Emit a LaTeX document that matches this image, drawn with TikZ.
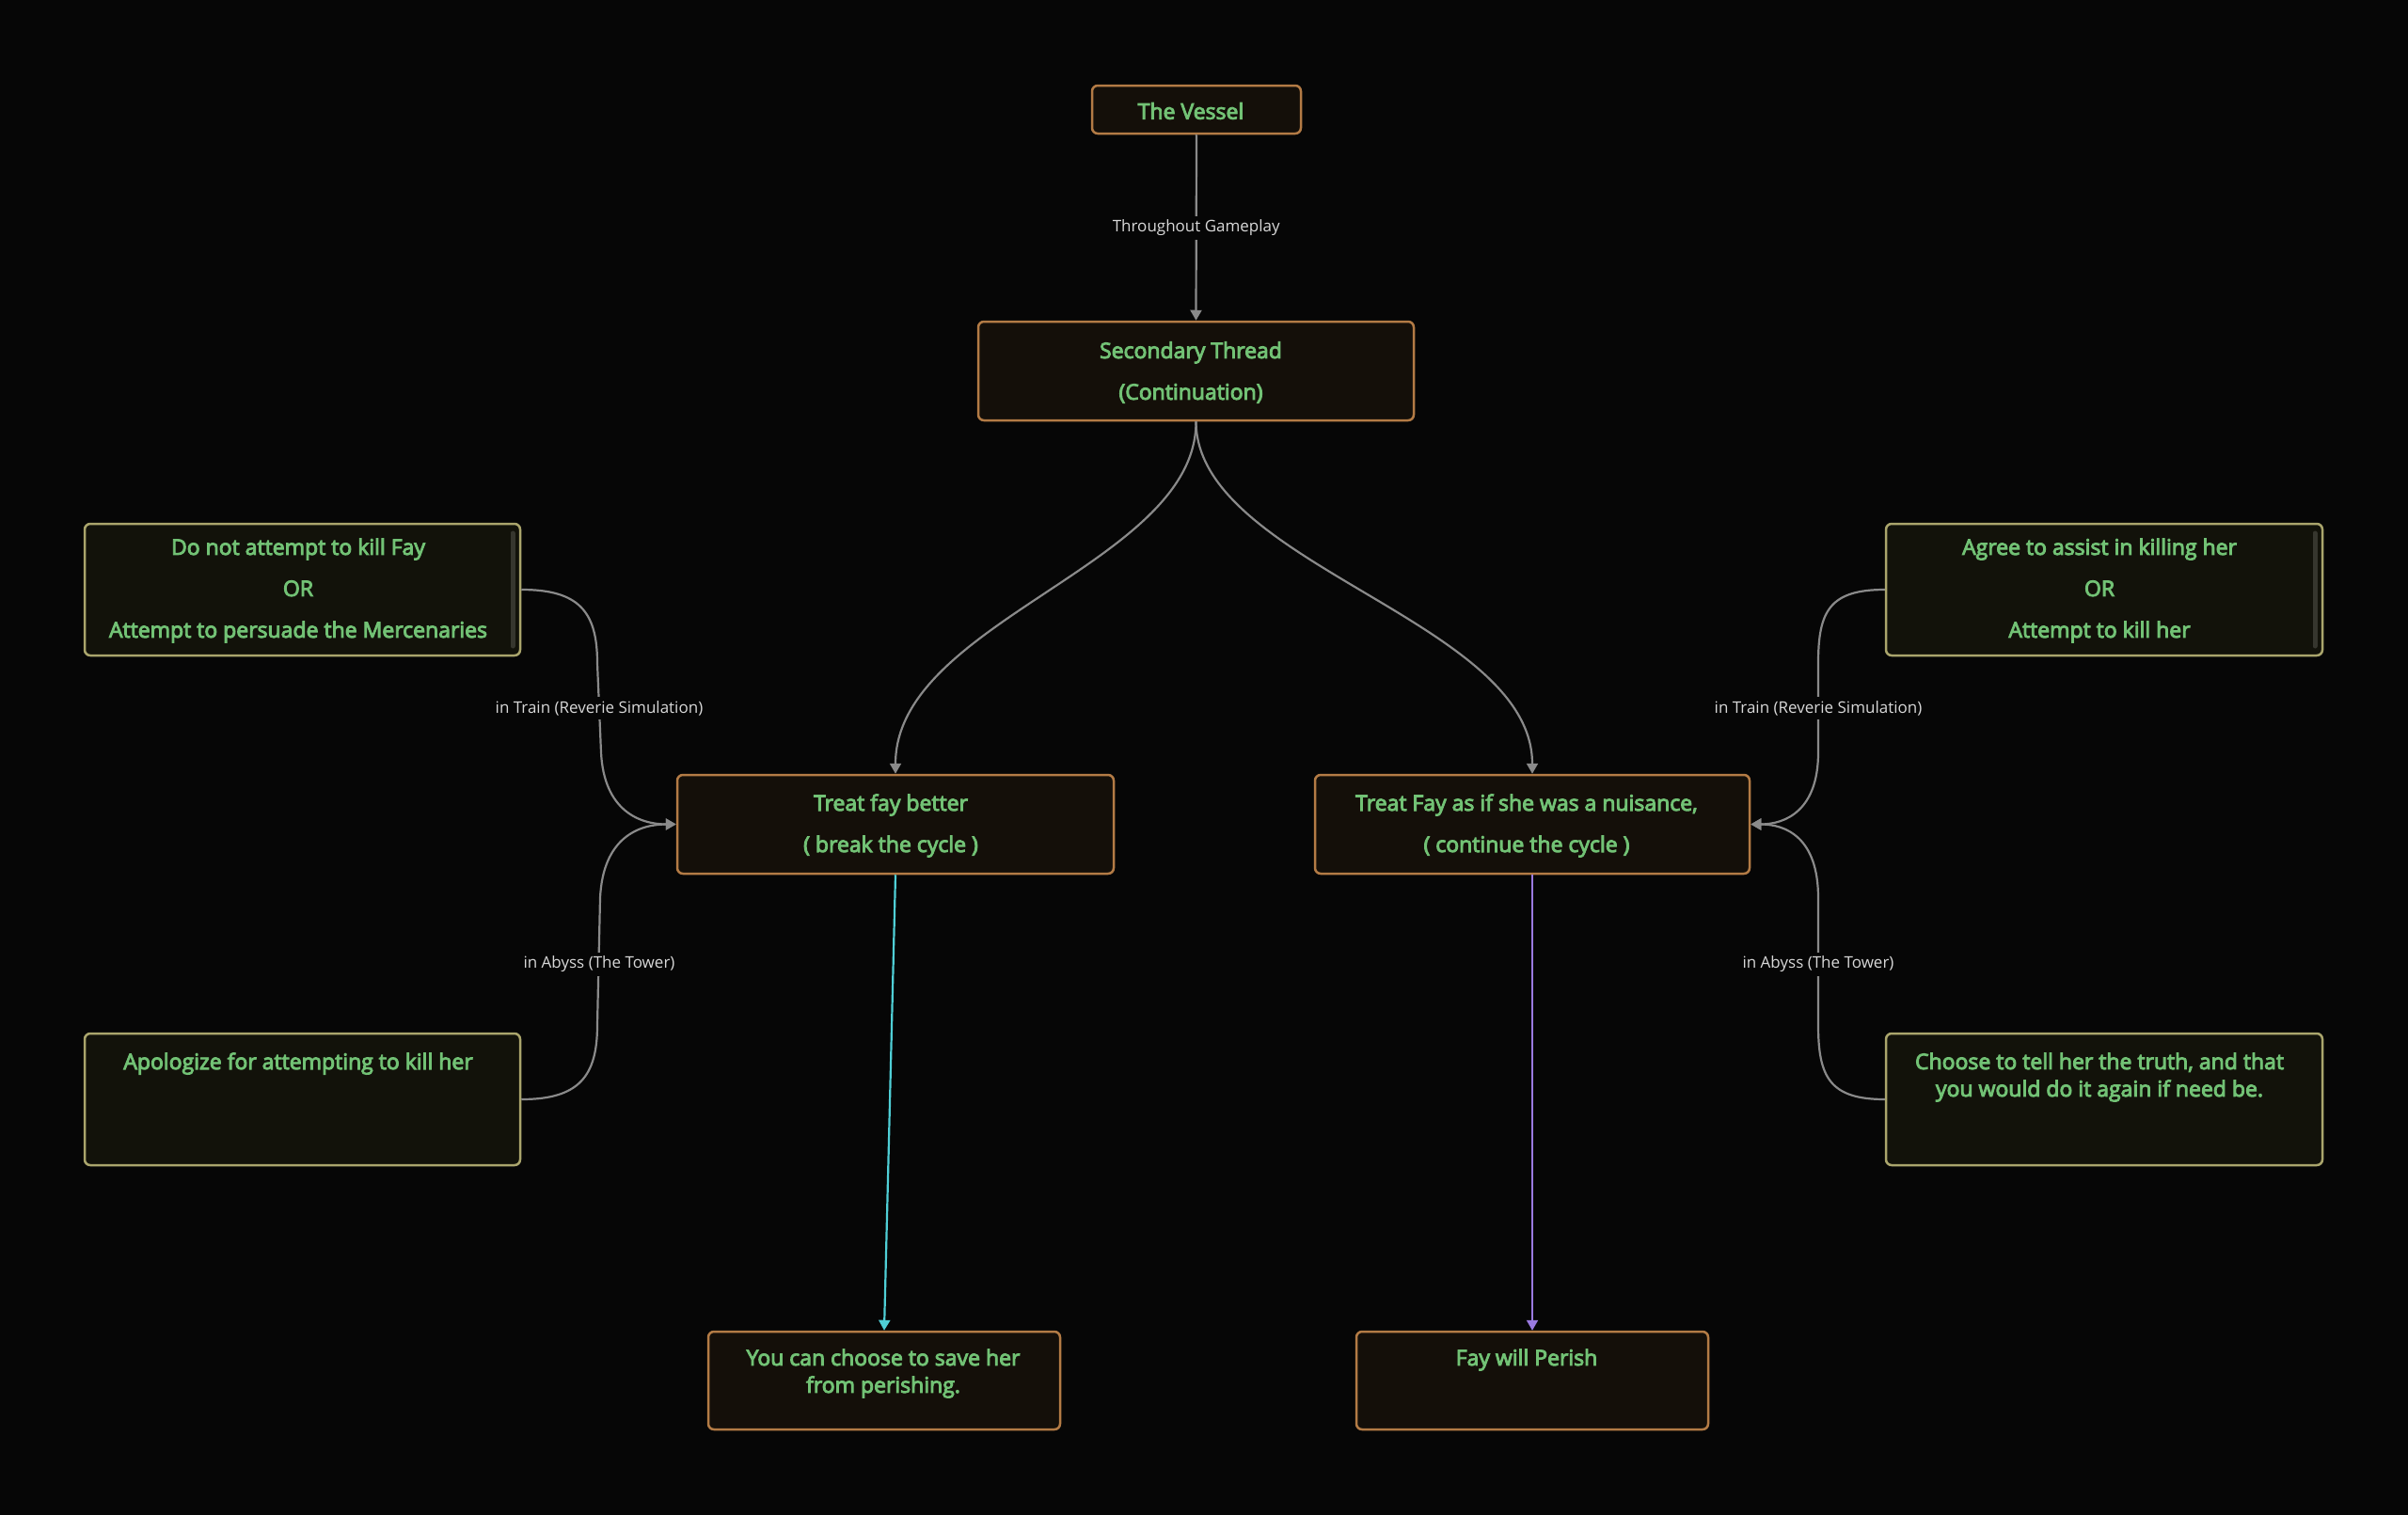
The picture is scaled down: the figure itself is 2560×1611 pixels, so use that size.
\documentclass[tikz,border=0pt]{standalone}
\usepackage{fontspec}
\usetikzlibrary{arrows.meta}
\newfontfamily\nodefontfam{Open Sans}[FakeBold=4]
\newfontfamily\lblfontfam{Open Sans}
\definecolor{bgc}{HTML}{060606}
\definecolor{orangeb}{HTML}{B37B45}
\definecolor{obfill}{HTML}{140F09}
\definecolor{yellowb}{HTML}{AAA56C}
\definecolor{ybfill}{HTML}{12120A}
\definecolor{txtgreen}{HTML}{72C275}
\definecolor{linegray}{HTML}{8A8A8A}
\definecolor{lblgray}{HTML}{D8D8D8}
\definecolor{cyanl}{HTML}{4FCFD6}
\definecolor{violetl}{HTML}{9A7AE0}
\definecolor{scrollc}{HTML}{36362E}
\begin{document}
\begin{tikzpicture}[x=1pt,y=-1pt,
  obox/.style={draw=orangeb, fill=obfill, line width=2.5pt, rounded corners=6pt, inner sep=0pt},
  ybox/.style={draw=yellowb, fill=ybfill, line width=2.5pt, rounded corners=6pt, inner sep=0pt},
  txt/.style={text=txtgreen, align=center, inner sep=0pt, font=\nodefontfam\fontsize{23}{44}\selectfont},
  txtb/.style={txt, font=\nodefontfam\fontsize{23}{29}\selectfont},
  lbl/.style={fill=bgc, text=lblgray, inner sep=4pt, font=\lblfontfam\fontsize{17}{20}\selectfont},
  conn/.style={draw=linegray, line width=2.2pt, -{Triangle[length=11pt,width=12pt]}},
  scrollbar/.style={draw=scrollc, line width=5pt, line cap=round}
]
\useasboundingbox[fill=bgc] (0,0) rectangle (2560,1611);

% boxes
\node[obox, minimum width=222pt, minimum height=51pt] (vessel) at (1272,116.5) {};
\node[obox, minimum width=463pt, minimum height=105pt] (second) at (1271.5,394.5) {};
\node[ybox, minimum width=463pt, minimum height=140pt] (lt) at (321.5,627) {};
\node[ybox, minimum width=464pt, minimum height=140pt] (rt) at (2237,627) {};
\node[ybox, minimum width=463pt, minimum height=140pt] (lb) at (321.5,1169) {};
\node[ybox, minimum width=464pt, minimum height=140pt] (rb) at (2237,1169) {};
\node[obox, minimum width=464pt, minimum height=105pt] (tb) at (952,876.5) {};
\node[obox, minimum width=462pt, minimum height=105pt] (tn) at (1629,876.5) {};
\node[obox, minimum width=374pt, minimum height=104pt] (save) at (940,1468) {};
\node[obox, minimum width=374pt, minimum height=104pt] (perish) at (1629,1468) {};

% scrollbars
\draw[scrollbar] (545,567) -- (545,687);
\draw[scrollbar] (2461,567) -- (2461,687);

% texts
\node[txt] (tvessel) at (1266,118) {The Vessel};
\node[txt] (tsecond) at (1266,396) {Secondary Thread\\(Continuation)};
\node[txt] (tlt) at (317,628) {Do not attempt to kill Fay\\OR\\Attempt to persuade the Mercenaries};
\node[txt] (trt) at (2232,628) {Agree to assist in killing her\\OR\\Attempt to kill her};
\node[txt] (tlb) at (317,1131) {Apologize for attempting to kill her};
\node[txtb] (trb) at (2232,1145.5) {Choose to tell her the truth, and that\\you would do it again if need be.};
\node[txt] (ttb) at (947,878) {Treat fay better\\( break the cycle )};
\node[txt] (ttn) at (1623,878) {Treat Fay as if she was a nuisance,\\( continue the cycle )};
\node[txtb] (tsave) at (939,1460.5) {You can choose to save her\\from perishing.};
\node[txt] (tperish) at (1623,1446) {Fay will Perish};

% connectors
\draw[conn] (vessel.south) -- node[lbl] (l1) {Throughout Gameplay} (second.north);
\draw[conn] (second.south) .. controls (1272,600) and (952,660) .. (tb.north);
\draw[conn] (second.south) .. controls (1272,600) and (1629,660) .. (tn.north);

\draw[conn] (lt.east) .. controls (615,627) and (635,650) .. (635,705) -- (639,800)
  .. controls (642,862) and (680,876.5) .. (tb.west);
\draw[conn] (lb.east) .. controls (615,1169) and (635,1145) .. (635,1090) -- (638,955)
  .. controls (641,890) and (680,876.5) .. (tb.west);
\draw[conn] (rt.west) .. controls (1945,627) and (1933,650) .. (1933,705) -- (1933,800)
  .. controls (1933,862) and (1898,876.5) .. (tn.east);
\draw[conn] (rb.west) .. controls (1945,1169) and (1933,1145) .. (1933,1090) -- (1933,955)
  .. controls (1933,890) and (1898,876.5) .. (tn.east);

\node[lbl] (l2) at (637,753) {in Train (Reverie Simulation)};
\node[lbl] (l3) at (637,1025) {in Abyss (The Tower)};
\node[lbl] (l4) at (1933,753) {in Train (Reverie Simulation)};
\node[lbl] (l5) at (1933,1025) {in Abyss (The Tower)};

\draw[line width=2.2pt, draw=cyanl, -{Triangle[length=11pt,width=12pt]}] (tb.south) -- (save.north);
\draw[line width=2.2pt, draw=violetl, -{Triangle[length=11pt,width=12pt]}] (tn.south) -- (perish.north);
\end{tikzpicture}
\end{document}
